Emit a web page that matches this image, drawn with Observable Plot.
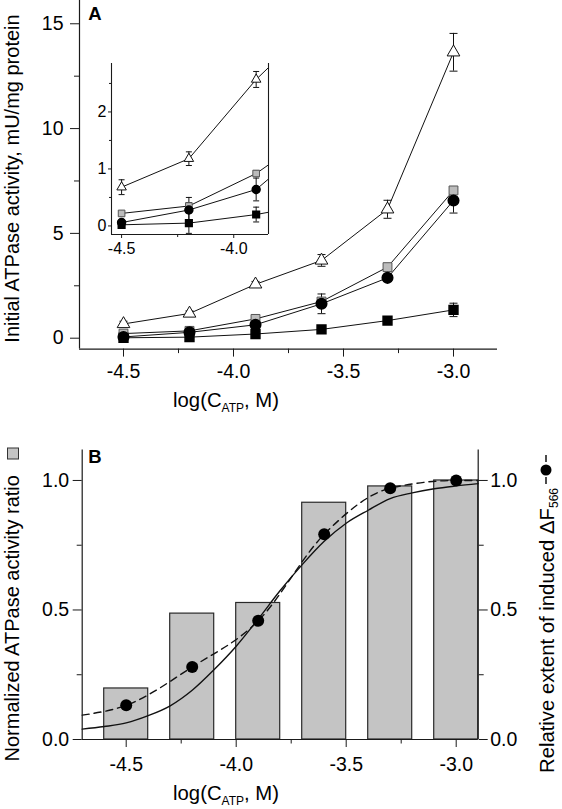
<!DOCTYPE html>
<html><head><meta charset="utf-8">
<script src="https://cdn.jsdelivr.net/npm/d3@7"></script>
<script src="https://cdn.jsdelivr.net/npm/@observablehq/plot@0.6"></script>
<style>
body{margin:0;background:#fff;}
#fig{position:relative;width:562px;height:809px;overflow:hidden;font-family:"Liberation Sans",Arial,sans-serif;}
#fig svg{position:absolute;}
</style></head><body><div id="fig"></div>
<script>
// ---------- data ----------
const logC = [-4.5, -4.2, -3.9, -3.6, -3.3, -3.0];
// Panel A: initial ATPase activity (mU/mg protein)
const triY = [0.68, 1.18, 2.57, 3.71, 6.15, 13.64];
const triErr = [0.13, 0.12, 0.14, 0.28, 0.43, 0.9];
const graySqY = [0.22, 0.35, 0.92, 1.75, 3.39, 7.05];
const graySqErr = [0.04, 0.06, 0.05, 0.1, 0.1, 0.15];
const circY = [0.06, 0.28, 0.64, 1.64, 2.88, 6.57];
const circErr = [0.04, 0.22, 0.2, 0.47, 0.12, 0.6];
const blkSqY = [0.02, 0.05, 0.2, 0.42, 0.84, 1.35];
const blkSqErr = [0.03, 0.18, 0.13, 0.06, 0.06, 0.32];
// Panel B
const ratioBars = [0.197, 0.486, 0.527, 0.914, 0.977, 1.0];
const deltaF = [0.132, 0.28, 0.458, 0.792, 0.97, 1.0];
const dashX = [-4.7, -4.5, -4.2, -3.9, -3.6, -3.3, -3.0, -2.9];
const dashY = [0.094, 0.132, 0.28, 0.458, 0.792, 0.97, 1.0, 1.0];
const fitX = [-4.7,-4.6,-4.5,-4.4,-4.3,-4.2,-4.1,-4.0,-3.9,-3.8,-3.7,-3.6,-3.5,-3.4,-3.3,-3.2,-3.1,-3.0,-2.9];
const fitY = [0.040,0.050,0.064,0.092,0.13,0.19,0.27,0.36,0.465,0.575,0.675,0.765,0.835,0.885,0.93,0.952,0.968,0.979,0.988];
// ticks
const xMajor = [-4.5, -4.0, -3.5, -3.0];
const xMinor = [-4.25, -3.75, -3.25];
const yMajorA = [0, 5, 10, 15];
const yMinorA = [2.5, 7.5, 12.5];
const xMajorIn = [-4.5, -4.0];
const xMinorIn = [-4.25];
const yMajorIn = [0, 1, 2];
const yMinorIn = [0.5, 1.5, 2.5];
const yMajorB = [0, 0.5, 1.0];
const yMinorB = [0.25, 0.75];

// ---------- helpers ----------
const series = [
  {name: "tri", y: triY, e: triErr},
  {name: "gray", y: graySqY, e: graySqErr},
  {name: "circ", y: circY, e: circErr},
  {name: "blk", y: blkSqY, e: blkSqErr}
];
const rowsA = series.flatMap(s => logC.map((x, i) => ({series: s.name, x, y: s.y[i], e: s.e[i]})));
const fmt1 = d => d.toFixed(1);
const cap = {draw(ctx, size) { const w = Math.sqrt(size / Math.PI); ctx.moveTo(-w, 0); ctx.lineTo(w, 0); }};
const FONT = '"Liberation Sans", Arial, sans-serif';
const AX = "#1a1a1a";

function dataMarks(scale, clip) {
  const by = n => d => d.series === n;
  return [
    Plot.line(rowsA, {x: "x", y: "y", z: "series", stroke: "#111", strokeWidth: 1, clip}),
    Plot.ruleX(rowsA, {x: "x", y1: d => d.y - d.e, y2: d => d.y + d.e, stroke: "#111", strokeWidth: 1, clip}),
    Plot.dot(rowsA, {x: "x", y: d => d.y + d.e, symbol: cap, r: 4 * scale, stroke: "#111", strokeWidth: 1, clip}),
    Plot.dot(rowsA, {x: "x", y: d => d.y - d.e, symbol: cap, r: 4 * scale, stroke: "#111", strokeWidth: 1, clip}),
    Plot.dot(rowsA, {filter: by("blk"), x: "x", y: "y", symbol: "square", r: 5 * scale, fill: "#000", stroke: "#000", clip}),
    Plot.dot(rowsA, {filter: by("gray"), x: "x", y: "y", symbol: "square", r: 5 * scale, fill: "#bcbcbc", stroke: "#555", strokeWidth: 1, clip}),
    Plot.dot(rowsA, {filter: by("circ"), x: "x", y: "y", symbol: "circle", r: 5.3 * scale, fill: "#000", stroke: "#000", clip}),
    Plot.dot(rowsA, {filter: by("tri"), x: "x", y: "y", symbol: "triangle", r: 4.7 * scale, fill: "#fff", stroke: "#111", strokeWidth: 1, clip})
  ];
}

const fig = document.getElementById("fig");

// ---------- Panel A ----------
const svgA = Plot.plot({
  width: 562, height: 420,
  marginLeft: 79, marginRight: 65, marginTop: 0, marginBottom: 71.4,
  x: {domain: [-4.7, -2.8]},
  y: {domain: [-0.52, 16.11]},
  style: {fontFamily: FONT, fontSize: "19.5px", color: "#000", background: "transparent", overflow: "visible"},
  marks: [
    Plot.ruleX([-4.7], {stroke: AX, strokeWidth: 1.2}),
    Plot.ruleY([-0.52], {stroke: AX, strokeWidth: 1.2}),
    Plot.axisX(xMajor, {tickSize: 8, tickPadding: 7, tickFormat: fmt1, label: null, stroke: AX}),
    Plot.axisX(xMinor, {tickSize: 4.5, tickFormat: () => "", label: null, stroke: AX}),
    Plot.axisY(yMajorA, {tickSize: 9, tickPadding: 7, tickFormat: d => String(d), label: null, stroke: AX}),
    Plot.axisY(yMinorA, {tickSize: 5, tickFormat: () => "", label: null, stroke: AX}),
    ...dataMarks(1, false)
  ]
});
svgA.style.left = "0px"; svgA.style.top = "0px";
fig.appendChild(svgA);

const gA = d3.select(svgA);
gA.append("text").attr("x", 95).attr("y", 20).attr("font-family", FONT).attr("font-weight", "bold")
  .attr("font-size", 18.5).attr("fill", "#000").text("A");
gA.append("text").attr("transform", "translate(18.5,178.5) rotate(-90)").attr("text-anchor", "middle")
  .attr("font-family", FONT).attr("font-size", 20).attr("fill", "#000").text("Initial ATPase activity, mU/mg protein");
function xTitle(sel, x, y) {
  const t = sel.append("text").attr("x", x).attr("y", y).attr("font-family", FONT).attr("font-size", 20.3).attr("fill", "#000");
  t.append("tspan").text("log(C");
  t.append("tspan").attr("font-size", 12).attr("dy", 5).text("ATP");
  t.append("tspan").attr("dy", -5).text(", M)");
}
xTitle(gA, 226, 407);

// ---------- Inset ----------
const svgIn = Plot.plot({
  width: 193, height: 205,
  marginLeft: 30, marginRight: 6, marginTop: 4, marginBottom: 30,
  x: {domain: [-4.545, -3.845]},
  y: {domain: [-0.15, 2.85]},
  style: {fontFamily: FONT, fontSize: "16px", color: "#000", background: "transparent", overflow: "visible"},
  marks: [
    Plot.ruleX([-4.545], {stroke: AX, strokeWidth: 1.1}),
    Plot.ruleX([-3.845], {stroke: AX, strokeWidth: 1.1}),
    Plot.ruleY([-0.15], {stroke: AX, strokeWidth: 1.1}),
    Plot.axisX(xMajorIn, {tickSize: 4, tickPadding: 4, tickFormat: fmt1, label: null, stroke: AX}),
    Plot.axisX(xMinorIn, {tickSize: 3, tickFormat: () => "", label: null, stroke: AX}),
    Plot.axisY(yMajorIn, {tickSize: 3, tickPadding: 2, tickFormat: d => String(d), label: null, stroke: AX}),
    Plot.axisY(yMinorIn, {tickSize: 2, tickFormat: () => "", label: null, stroke: AX}),
    ...dataMarks(0.75, true)
  ]
});
svgIn.style.left = "80.7px"; svgIn.style.top = "59.3px";
fig.appendChild(svgIn);

// ---------- Panel B ----------
const barRows = logC.map((x, i) => ({x, v: ratioBars[i]}));
const dotRows = logC.map((x, i) => ({x, v: deltaF[i]}));
const dashRows = dashX.map((x, i) => ({x, v: dashY[i]}));
const fitRows = fitX.map((x, i) => ({x, v: fitY[i]}));

const svgB = Plot.plot({
  width: 562, height: 389,
  marginLeft: 81.7, marginRight: 84.3, marginTop: 29.4, marginBottom: 70,
  x: {domain: [-4.7, -2.9]},
  y: {domain: [0, 1.118]},
  style: {fontFamily: FONT, fontSize: "19.5px", color: "#000", background: "transparent", overflow: "visible"},
  marks: [
    Plot.rectY(barRows, {x1: d => d.x - 0.1, x2: d => d.x + 0.1, y1: 0, y2: "v", fill: "#c4c4c4", stroke: "#2a2a2a", strokeWidth: 1.2}),
    Plot.line(fitRows, {x: "x", y: "v", curve: "monotone-x", stroke: "#111", strokeWidth: 1.4}),
    Plot.line(dashRows, {x: "x", y: "v", curve: "monotone-x", stroke: "#111", strokeWidth: 1.4, strokeDasharray: "7,5"}),
    Plot.dot(dotRows, {x: "x", y: "v", r: 6, fill: "#000"}),
    Plot.ruleX([-4.7], {stroke: AX, strokeWidth: 1.2}),
    Plot.ruleX([-2.9], {stroke: AX, strokeWidth: 1.2}),
    Plot.ruleY([0], {stroke: AX, strokeWidth: 1.2}),
    Plot.axisX(xMajor, {tickSize: 8, tickPadding: 10, tickFormat: fmt1, label: null, stroke: AX}),
    Plot.axisX(xMinor, {tickSize: 4.5, tickFormat: () => "", label: null, stroke: AX}),
    Plot.axisY(yMajorB, {anchor: "left", tickSize: 9, tickPadding: 4, tickFormat: fmt1, label: null, stroke: AX}),
    Plot.axisY(yMinorB, {anchor: "left", tickSize: 5, tickFormat: () => "", label: null, stroke: AX}),
    Plot.axisY(yMajorB, {anchor: "right", tickSize: 9, tickPadding: 3, tickFormat: fmt1, label: null, stroke: AX}),
    Plot.axisY(yMinorB, {anchor: "right", tickSize: 5, tickFormat: () => "", label: null, stroke: AX})
  ]
});
svgB.style.left = "0px"; svgB.style.top = "420px";
fig.appendChild(svgB);

const gB = d3.select(svgB);
gB.append("text").attr("x", 95).attr("y", 43).attr("font-family", FONT).attr("font-weight", "bold")
  .attr("font-size", 18.5).attr("fill", "#000").text("B");
gB.append("text").attr("transform", "translate(18.5,198.3) rotate(-90)").attr("text-anchor", "middle")
  .attr("font-family", FONT).attr("font-size", 20).attr("fill", "#000").text("Normalized ATPase activity ratio");
gB.append("rect").attr("x", 7.5).attr("y", 28).attr("width", 11).attr("height", 11)
  .attr("fill", "#c4c4c4").attr("stroke", "#333").attr("stroke-width", 1);
const rt = gB.append("text").attr("transform", "translate(553.5,353) rotate(-90)").attr("text-anchor", "start")
  .attr("font-family", FONT).attr("font-size", 20.3).attr("fill", "#000");
rt.append("tspan").text("Relative extent of induced \u0394F");
rt.append("tspan").attr("font-size", 12).attr("dy", 4).text("566");
gB.append("line").attr("x1", 546).attr("x2", 546).attr("y1", 35).attr("y2", 42).attr("stroke", "#000").attr("stroke-width", 1.4);
gB.append("circle").attr("cx", 546).attr("cy", 50).attr("r", 5.5).attr("fill", "#000");
gB.append("line").attr("x1", 546).attr("x2", 546).attr("y1", 57).attr("y2", 64).attr("stroke", "#000").attr("stroke-width", 1.4);
xTitle(gB, 226, 380);
</script></body></html>
